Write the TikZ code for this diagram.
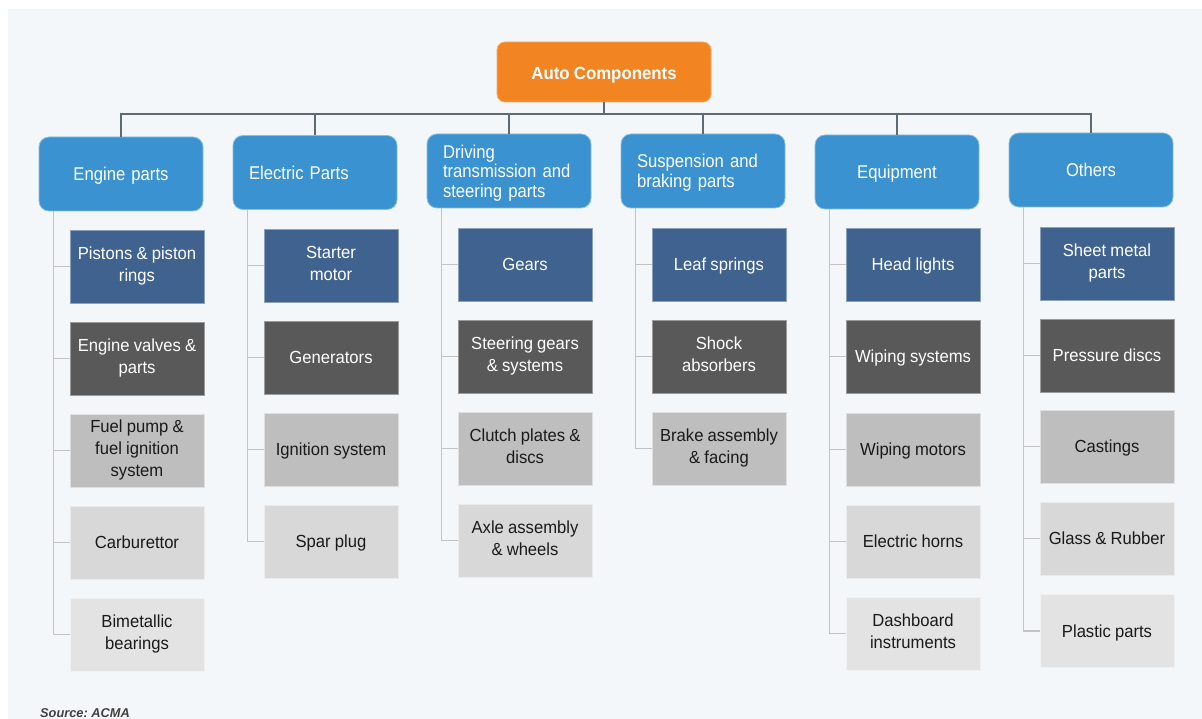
\documentclass[tikz,border=0pt]{standalone}
\usepackage{fontspec}
\setmainfont{Liberation Sans}
\newfontfamily\catfont{Liberation Sans}[FakeStretch=0.9, WordSpace=0.85]
\newfontfamily\itemfont{Liberation Sans}[FakeStretch=0.95, WordSpace=0.9]
\frenchspacing
\newcommand{\topfix}{\rule{0pt}{0.966em}}
\newcommand{\botfix}{\rule[-0.25em]{0pt}{0.25em}}
\definecolor{panelA}{HTML}{F4F7F9}
\definecolor{orangeA}{HTML}{F28522}
\definecolor{blueA}{HTML}{3A92D0}
\definecolor{navyA}{HTML}{3F628E}
\definecolor{darkA}{HTML}{595959}
\definecolor{midA}{HTML}{BEBEBE}
\definecolor{lightA}{HTML}{D8D8D8}
\definecolor{paleA}{HTML}{E3E3E3}
\definecolor{busA}{HTML}{5F6B73}
\definecolor{linkA}{HTML}{C3C3C3}
\definecolor{inkA}{HTML}{1A1A1A}
\definecolor{srcA}{HTML}{404040}
\begin{document}
\begin{tikzpicture}[x=1pt,y=-1pt,
  fixtext/.style={execute at begin node={\topfix}, execute at end node={\botfix}},
  rootbox/.style={fill=orangeA, draw=orangeA!70!white, line width=0.8pt, rounded corners=8pt,
    minimum width=214pt, minimum height=60pt, inner sep=0pt, text=white,
    font=\itemfont\fontsize{17.7}{20}\selectfont\bfseries},
  catbox/.style={fixtext, fill=blueA, draw=blueA!60!white, line width=0.8pt, rounded corners=10pt,
    minimum width=164pt, minimum height=74pt, inner xsep=16pt, inner ysep=0pt,
    text width=132pt, text=white, font=\catfont\fontsize{18.5}{19.5}\selectfont},
  item/.style={fixtext, minimum width=134pt, minimum height=73pt, inner sep=0pt, align=center,
    line width=0.8pt, font=\itemfont\fontsize{17.5}{22.3}\selectfont},
  rowA/.style={item, fill=navyA, draw=navyA!60!white, text=white},
  rowB/.style={item, fill=darkA, draw=darkA!60!white, text=white},
  rowC/.style={item, fill=midA, draw=midA!50!white, text=inkA},
  rowD/.style={item, fill=lightA, draw=lightA!50!white, text=inkA},
  rowE/.style={item, fill=paleA, draw=paleA!50!white, text=inkA},
  bus/.style={draw=busA, line width=1.4pt},
  link/.style={draw=linkA, line width=1.4pt},
]
\useasboundingbox (0,0) rectangle (1202,719);
\fill[white] (0,0) rectangle (1202,719);
\fill[panelA] (8,9) rectangle (1202,719);

% root
\node[rootbox] (root) at (604,72) {\rule{0pt}{\dimexpr0.966em+3pt\relax}Auto Components\botfix};

% categories
\node[catbox, align=center] (c1) at (121,174) {Engine parts};
\node[catbox, align=left]   (c2) at (315,172.5) {Electric Parts};
\node[catbox, align=left]   (c3) at (509,171) {Driving\\transmission and\\steering parts};
\node[catbox, align=left]   (c4) at (703,171) {Suspension and\\braking parts};
\node[catbox, align=center] (c5) at (897,172) {Equipment};
\node[catbox, align=center] (c6) at (1091,170) {Others};

% bus
\coordinate (bus) at (604,114);
\draw[bus] (root.south) -- (bus);
\draw[bus] (c1.north) -- (c1.north |- bus) -- (c6.north |- bus) -- (c6.north);
\foreach \c in {c2,c3,c4,c5} \draw[bus] (\c.north) -- (\c.north |- bus);

% column 1
\node[rowA] (i11) at (137,266.5) {Pistons \& piston\\rings};
\node[rowB] (i12) at (137,358.5) {Engine valves \&\\parts};
\node[rowC] (i13) at (137,450.5) {Fuel pump \&\\fuel ignition\\system};
\node[rowD] (i14) at (137,542.5) {Carburettor};
\node[rowE] (i15) at (137,634.5) {Bimetallic\\bearings};
% column 2
\node[rowA] (i21) at (331,265.5) {Starter\\motor};
\node[rowB] (i22) at (331,357.5) {Generators};
\node[rowC] (i23) at (331,449.5) {Ignition system};
\node[rowD] (i24) at (331,541.5) {Spar plug};
% column 3
\node[rowA] (i31) at (525,264.5) {Gears};
\node[rowB] (i32) at (525,356.5) {Steering gears\\\& systems};
\node[rowC] (i33) at (525,448.5) {Clutch plates \&\\discs};
\node[rowD] (i34) at (525,540.5) {Axle assembly\\\& wheels};
% column 4
\node[rowA] (i41) at (719,264.5) {Leaf springs};
\node[rowB] (i42) at (719,356.5) {Shock\\absorbers};
\node[rowC] (i43) at (719,448.5) {Brake assembly\\\& facing};
% column 5
\node[rowA] (i51) at (913,264.5) {Head lights};
\node[rowB] (i52) at (913,356.5) {Wiping systems};
\node[rowC] (i53) at (913,449.5) {Wiping motors};
\node[rowD] (i54) at (913,541.5) {Electric horns};
\node[rowE] (i55) at (913,633.5) {Dashboard\\instruments};
% column 6
\node[rowA] (i61) at (1107,263.5) {Sheet metal\\parts};
\node[rowB] (i62) at (1107,355.5) {Pressure discs};
\node[rowC] (i63) at (1107,446.5) {Castings};
\node[rowD] (i64) at (1107,538.5) {Glass \& Rubber};
\node[rowE] (i65) at (1107,631) {Plastic parts};

% child connectors
\foreach \k in {1,...,5} \draw[link] ([xshift=15pt]c1.south west) |- (i1\k.west);
\foreach \k in {1,...,4} \draw[link] ([xshift=15pt]c2.south west) |- (i2\k.west);
\foreach \k in {1,...,4} \draw[link] ([xshift=15pt]c3.south west) |- (i3\k.west);
\foreach \k in {1,...,3} \draw[link] ([xshift=15pt]c4.south west) |- (i4\k.west);
\foreach \k in {1,...,5} \draw[link] ([xshift=15pt]c5.south west) |- (i5\k.west);
\foreach \k in {1,...,5} \draw[link] ([xshift=15pt]c6.south west) |- (i6\k.west);

% source
\node[anchor=base west, inner sep=0pt, text=srcA, font=\fontsize{12.8}{15}\selectfont\bfseries\itshape] (src) at (40,717) {Source: ACMA};
\end{tikzpicture}
\end{document}
